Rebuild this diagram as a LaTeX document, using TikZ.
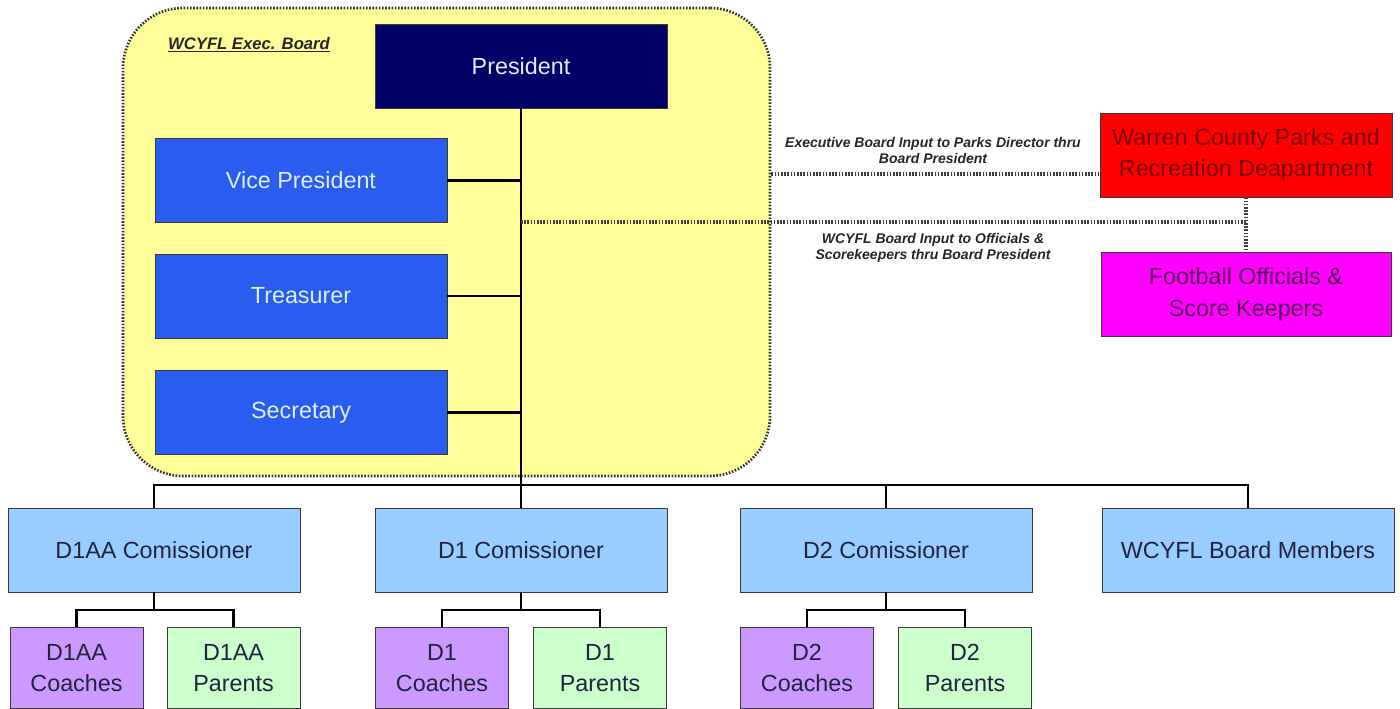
\documentclass[tikz,border=0pt]{standalone}
\usepackage{fontspec}
\setmainfont{Liberation Sans}
\usetikzlibrary{calc}
\definecolor{ybg}{HTML}{FFFF99}
\definecolor{navy}{HTML}{000066}
\definecolor{midblue}{HTML}{2A5CF0}
\definecolor{ltblue}{HTML}{99CCFF}
\definecolor{lilac}{HTML}{CC99FF}
\definecolor{ltgreen}{HTML}{CCFFCC}
\definecolor{boxedge}{HTML}{3A3A3A}
\definecolor{darktxt}{HTML}{22243F}
\definecolor{paletxt}{HTML}{DDEEFF}
\definecolor{maroon}{HTML}{7A0000}
\definecolor{plum}{HTML}{5A005A}
\definecolor{redfill}{HTML}{FF0000}
\definecolor{magfill}{HTML}{FF00FF}
\begin{document}
\begin{tikzpicture}[x=0.75pt,y=-0.75pt,
  box/.style={draw=boxedge, line width=0.7pt, minimum width=219pt, minimum height=63pt,
    inner sep=0pt, align=center, font=\fontsize{17.5}{23.5}\selectfont},
  subbox/.style={box, minimum width=99.75pt, minimum height=61pt},
  conn/.style={line width=2.2pt, black},
  dots/.style={line width=2.4pt, black!75, dash pattern=on 1.2pt off 1.2pt},
  note/.style={align=center, font=\fontsize{10.5}{12}\selectfont\bfseries\itshape, text=black!85}
]
\useasboundingbox (0,0) rectangle (1400,709);
\fill[white] (0,0) rectangle (1400,709);

% executive board area
\node[draw=black!80, line width=2pt, dash pattern=on 1.2pt off 1.2pt, fill=ybg,
  rounded corners=45pt, minimum width=485.25pt, minimum height=351pt] (board) at (446.5,242) {};
\node[font=\fontsize{12.5}{14}\selectfont\bfseries\itshape, text=black!85] (boardlbl) at (249,45)
  {\underline{WCYFL Exec. Board}};

\node[box, fill=navy, text=paletxt] (pres) at (521,66) {President};
\node[box, fill=midblue, text=paletxt] (vp) at (301,180.5) {Vice President};
\node[box, fill=midblue, text=paletxt] (treas) at (301,296) {Treasurer};
\node[box, fill=midblue, text=paletxt] (sec) at (301,412.5) {Secretary};

% external
\node[box, fill=redfill, text=maroon] (warren) at (1246,155) {Warren County Parks and\\Recreation Deapartment};
\node[box, fill=magfill, text=plum, minimum width=217.5pt] (foot) at (1246,294.5) {Football Officials \&\\Score Keepers};

\node[note] (note1) at (933,151) {Executive Board Input to Parks Director thru\\Board President};
\node[note] (note2) at (933,248) {WCYFL Board Input to Officials \&\\Scorekeepers thru Board President};

% commissioners
\node[box, fill=ltblue, text=darktxt] (com1) at (154,550) {D1AA Comissioner};
\node[box, fill=ltblue, text=darktxt] (com2) at (521,550) {D1 Comissioner};
\node[box, fill=ltblue, text=darktxt] (com3) at (886,550) {D2 Comissioner};
\node[box, fill=ltblue, text=darktxt] (com4) at (1248,550) {WCYFL Board Members};

% sub boxes
\node[subbox, fill=lilac, text=darktxt] (c1) at (76.5,668) {D1AA\\Coaches};
\node[subbox, fill=ltgreen, text=darktxt] (p1) at (233.5,668) {D1AA\\Parents};
\node[subbox, fill=lilac, text=darktxt] (c2) at (442,668) {D1\\Coaches};
\node[subbox, fill=ltgreen, text=darktxt] (p2) at (600,668) {D1\\Parents};
\node[subbox, fill=lilac, text=darktxt] (c3) at (807,668) {D2\\Coaches};
\node[subbox, fill=ltgreen, text=darktxt] (p3) at (965,668) {D2\\Parents};

% connectors
\coordinate (trunkbot) at (521,485);
\draw[conn] (pres.south) -- (com2.north);
\draw[conn] (vp.east) -- (vp.east -| pres.south);
\draw[conn] (treas.east) -- (treas.east -| pres.south);
\draw[conn] (sec.east) -- (sec.east -| pres.south);
\draw[conn] (com1.north) |- (trunkbot);
\draw[conn] (com4.north) |- (trunkbot);
\draw[conn] (com3.north) -- (com3.north |- trunkbot);

\coordinate (s1) at (154,610);
\coordinate (s2) at (521,610);
\coordinate (s3) at (886,610);
\draw[conn] (com1.south) -- (s1);
\draw[conn] (c1.north) |- (s1) -| (p1.north);
\draw[conn] (com2.south) -- (s2);
\draw[conn] (c2.north) |- (s2) -| (p2.north);
\draw[conn] (com3.south) -- (s3);
\draw[conn] (c3.north) |- (s3) -| (p3.north);

% dotted links
\coordinate (e1) at ($(warren.west)+(0,19)$);
\draw[dots] (board.east |- e1) -- (e1);
\coordinate (j) at (1246,222);
\draw[dots] (warren.south) -- (foot.north);
\draw[dots] (pres.south |- j) -- (j);
\end{tikzpicture}
\end{document}
